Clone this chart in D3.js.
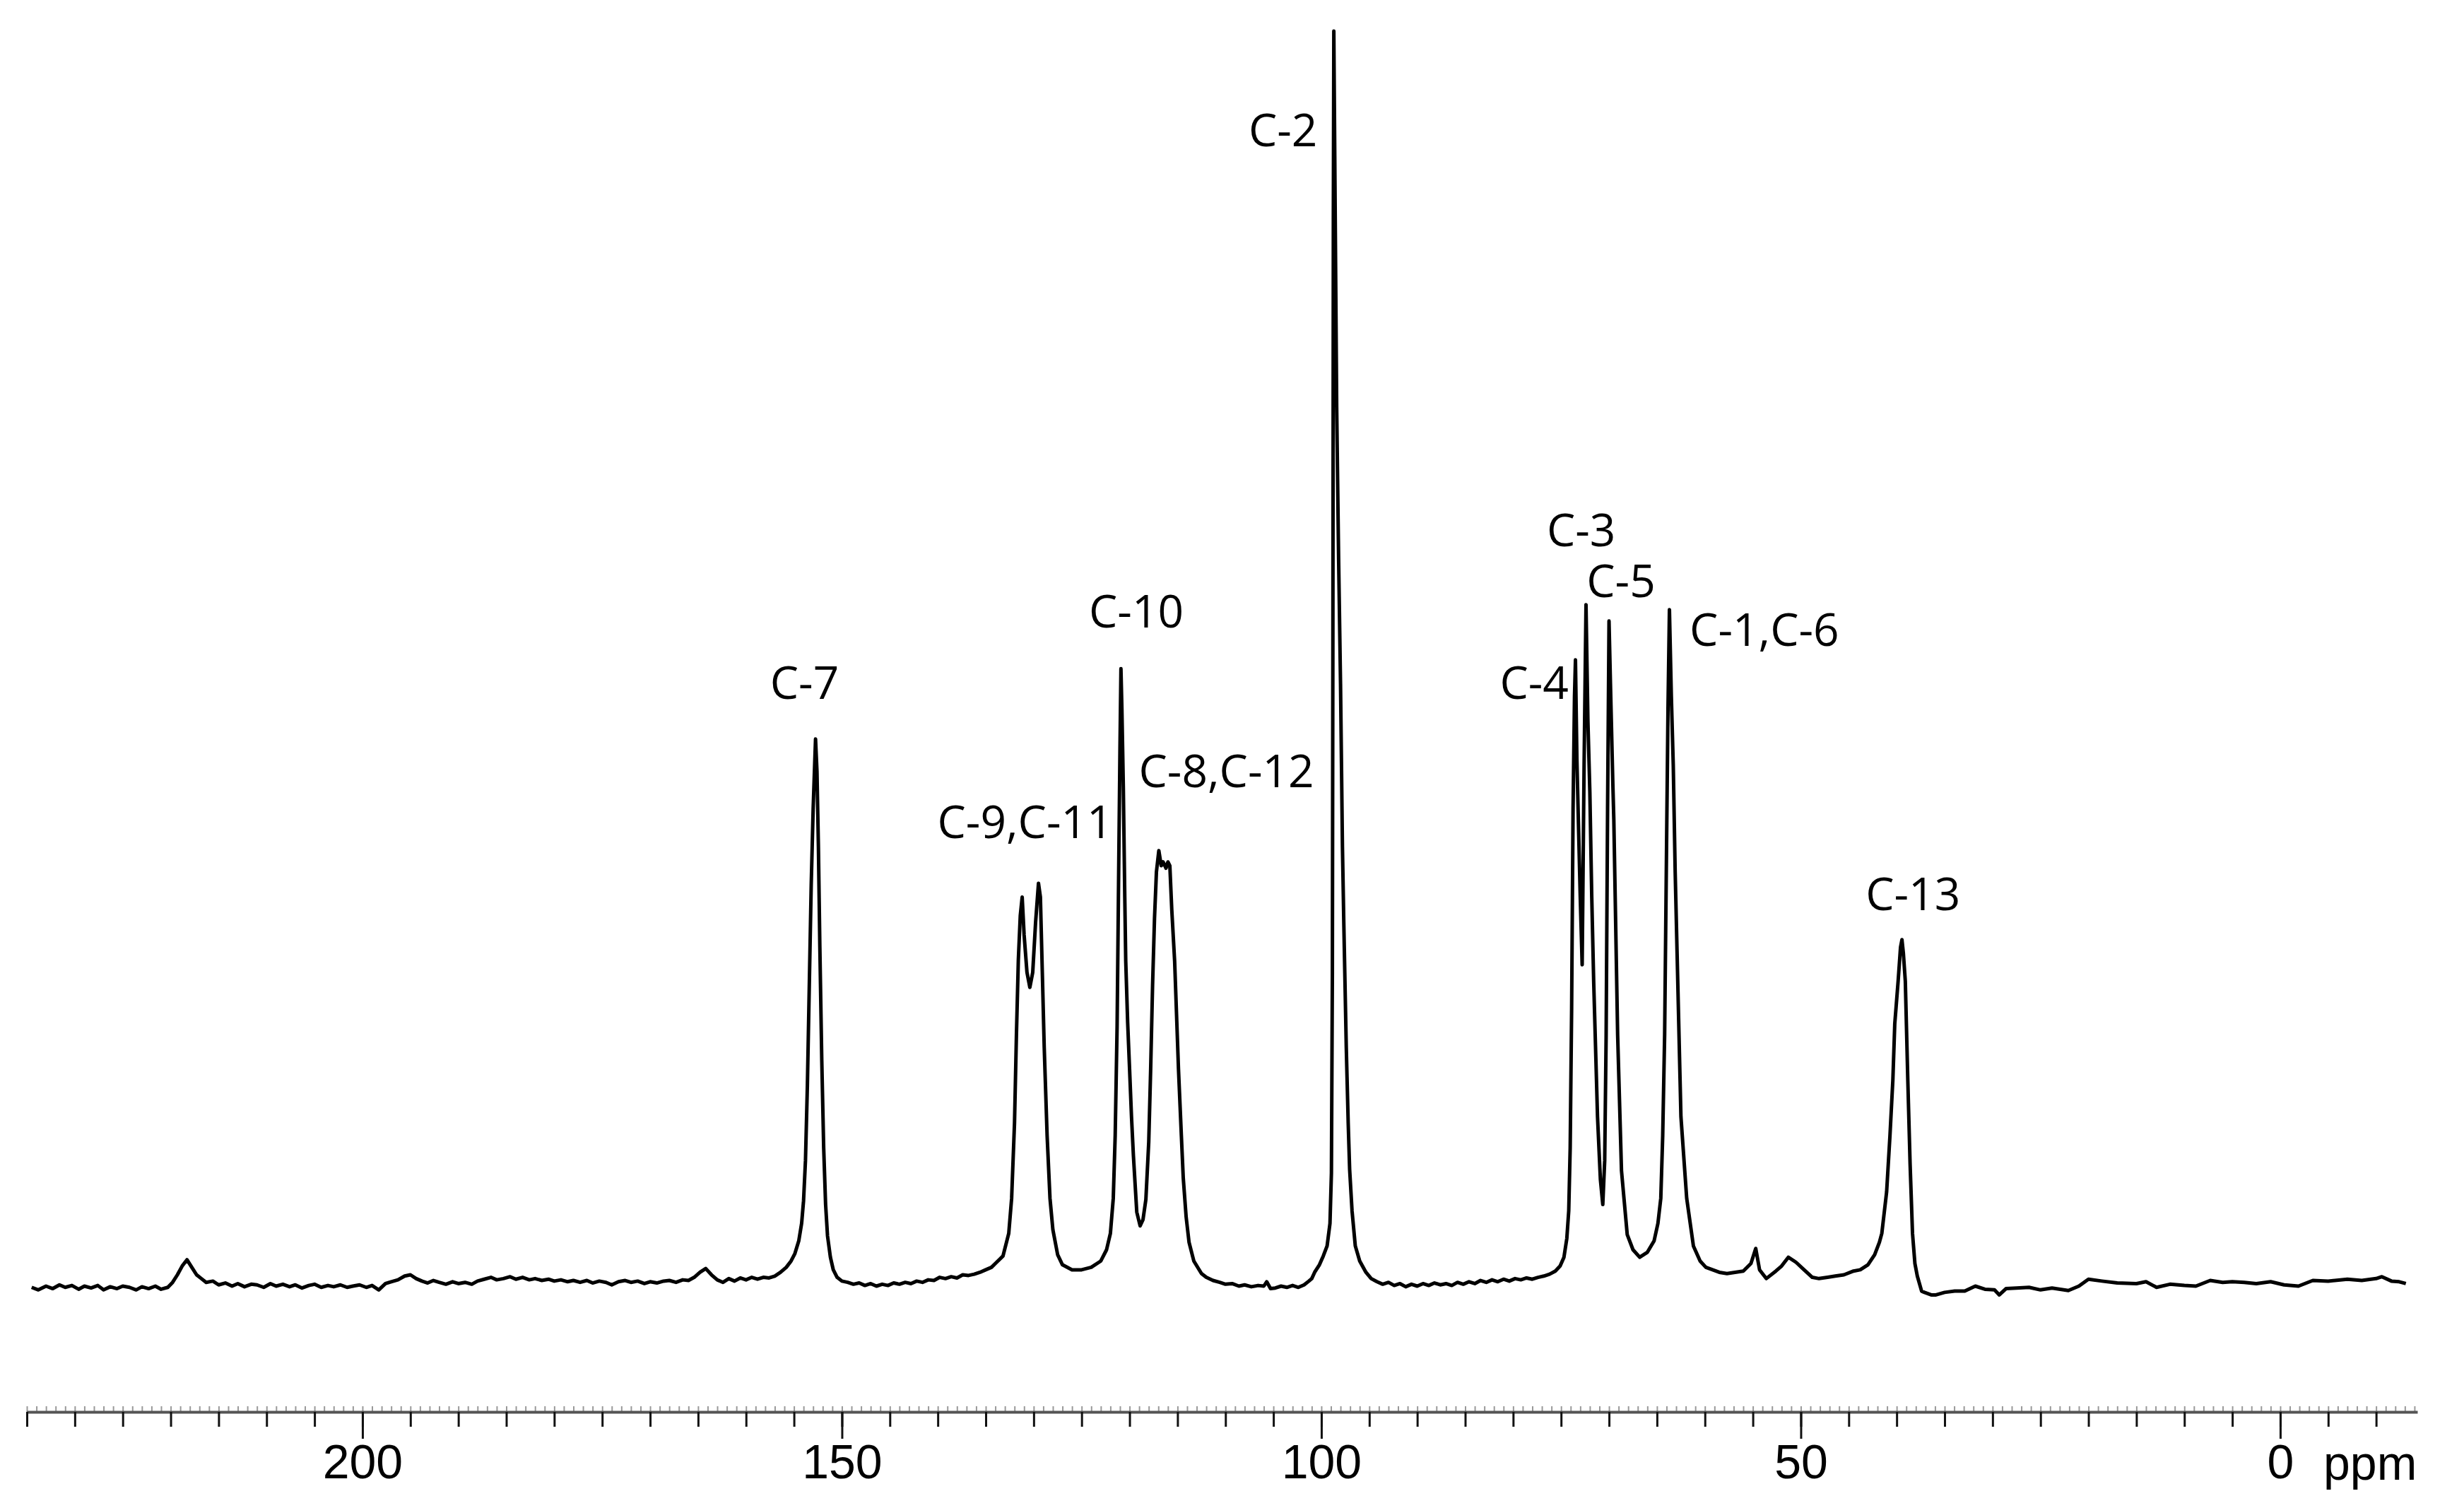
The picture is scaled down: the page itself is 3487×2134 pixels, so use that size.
<!DOCTYPE html>
<html>
<head>
<meta charset="utf-8">
<script src="https://cdn.jsdelivr.net/npm/d3@7"></script>
<style>
  html, body { margin: 0; padding: 0; background: #fff; }
  svg { display: block; }
</style>
</head>
<body>
<svg id="chart" width="3487" height="2134"></svg>
<script>
// 13C CP/MAS spectrum, [ppm, intensity] (C-2 top = 100)
const spectrum = [
  [234.5,-0.1],[233.8,-0.3],[233.0,0.0],[232.3,-0.2],[231.6,0.1],[231.0,-0.1],[230.3,0.05],[229.6,-0.25],
  [229.0,0.0],[228.3,-0.15],[227.6,0.05],[227.0,-0.3],[226.3,-0.05],[225.6,-0.2],[225.0,0.0],[224.3,-0.1],
  [223.6,-0.3],[223.0,-0.05],[222.3,-0.2],[221.6,0.0],[221.0,-0.25],[220.3,-0.1],[219.8,0.3],[219.3,0.9],
  [218.8,1.6],[218.3,2.1],[217.8,1.5],[217.3,0.9],[216.8,0.6],[216.3,0.3],[215.6,0.4],[215.0,0.1],
  [214.3,0.25],[213.6,0.0],[213.0,0.2],[212.3,-0.05],[211.6,0.15],[211.0,0.1],[210.3,-0.1],[209.6,0.2],
  [209.0,0.0],[208.3,0.15],[207.6,-0.05],[207.0,0.1],[206.3,-0.15],[205.6,0.05],[205.0,0.15],[204.3,-0.1],
  [203.6,0.05],[203.0,-0.05],[202.3,0.1],[201.6,-0.1],[201.0,0.0],[200.3,0.1],[199.6,-0.1],[199.0,0.05],
  [198.3,-0.3],[197.6,0.2],[197.0,0.35],[196.3,0.5],[195.6,0.8],[195.0,0.9],[194.4,0.6],[193.8,0.4],
  [193.2,0.25],[192.6,0.45],[192.0,0.3],[191.3,0.15],[190.6,0.35],[190.0,0.2],[189.3,0.3],[188.6,0.15],
  [188.0,0.4],[187.3,0.55],[186.6,0.7],[186.0,0.5],[185.3,0.6],[184.6,0.75],[184.0,0.55],[183.3,0.7],
  [182.6,0.5],[182.0,0.6],[181.3,0.45],[180.6,0.55],[180.0,0.4],[179.3,0.5],[178.6,0.35],[178.0,0.45],
  [177.3,0.3],[176.6,0.45],[176.0,0.25],[175.3,0.4],[174.6,0.3],[174.0,0.1],[173.3,0.35],[172.6,0.45],
  [172.0,0.3],[171.3,0.4],[170.6,0.2],[170.0,0.35],[169.3,0.25],[168.6,0.4],[168.0,0.45],[167.3,0.3],
  [166.6,0.5],[166.0,0.45],[165.4,0.7],[164.8,1.1],[164.2,1.4],[163.6,0.9],[163.0,0.5],[162.4,0.3],
  [161.8,0.6],[161.2,0.4],[160.6,0.65],[160.0,0.5],[159.4,0.7],[158.8,0.55],[158.2,0.7],[157.6,0.65],
  [157.0,0.8],[156.4,1.1],[155.8,1.5],[155.3,2.0],[154.9,2.6],[154.5,3.6],[154.2,5.0],[154.0,6.8],
  [153.8,10],[153.6,16],[153.4,24],[153.2,32],[153.0,38],[152.75,43.6],[152.6,41],[152.45,35],
  [152.3,27],[152.1,18],[151.9,11],[151.7,6.5],[151.5,4.0],[151.2,2.3],[150.9,1.3],[150.5,0.7],
  [150.0,0.4],[149.4,0.3],[148.8,0.15],[148.2,0.25],[147.6,0.05],[147.0,0.2],[146.4,0.0],[145.8,0.15],
  [145.2,0.05],[144.6,0.25],[144.0,0.15],[143.4,0.3],[142.8,0.2],[142.2,0.4],[141.6,0.3],[141.0,0.5],
  [140.4,0.45],[139.8,0.7],[139.2,0.6],[138.6,0.75],[138.0,0.65],[137.4,0.9],[136.8,0.85],[136.2,0.95],
  [135.6,1.1],[135.0,1.3],[134.4,1.5],[134.0,1.8],[133.2,2.4],[132.6,4.2],[132.3,7],[132.0,13],
  [131.8,20],[131.6,26],[131.4,29.5],[131.2,31.0],[131.0,28],[130.7,25],[130.4,23.8],[130.1,25],
  [129.8,29],[129.5,32.1],[129.3,31],[129.1,25],[128.9,19],[128.6,12],[128.3,7],[128.0,4.5],
  [127.5,2.5],[127.0,1.7],[126.0,1.3],[125.0,1.3],[124.0,1.5],[123.0,2.0],[122.4,2.9],[122.0,4.2],
  [121.7,7],[121.5,12],[121.3,20.7],[121.15,32],[121.0,43],[120.9,49.2],[120.8,46],[120.65,39.7],
  [120.5,31],[120.4,25.9],[120.2,21],[120.0,17.3],[119.8,13.5],[119.6,10.4],[119.25,5.9],[118.9,4.8],
  [118.6,5.3],[118.3,6.9],[118.0,11.5],[117.8,17.3],[117.6,24],[117.4,29.3],[117.2,33],[116.95,34.7],
  [116.7,33.5],[116.5,33.8],[116.2,33.3],[116.0,33.8],[115.8,33.5],[115.6,30],[115.3,25.9],[114.9,17.3],
  [114.6,12],[114.4,8.6],[114.1,5.5],[113.8,3.5],[113.3,2.0],[112.5,1.0],[112.0,0.7],[111.3,0.45],
  [110.6,0.3],[110.0,0.15],[109.3,0.2],[108.6,0.0],[108.0,0.1],[107.3,-0.05],[106.6,0.05],[106.0,0.0],
  [105.7,0.35],[105.3,-0.2],[104.8,-0.15],[104.2,0.0],[103.6,-0.1],[103.0,0.05],[102.4,-0.1],[101.8,0.1],
  [101.3,0.4],[101.0,0.6],[100.7,1.1],[100.2,1.7],[99.8,2.4],[99.4,3.2],[99.1,5],[98.95,9],
  [98.85,25],[98.8,50],[98.75,85],[98.7,100],[98.6,90],[98.4,70],[98.2,58],[98.0,48],
  [97.8,35],[97.66,29],[97.4,19],[97.2,13],[97.05,9.3],[96.8,6],[96.46,3.2],[96.0,2.0],
  [95.35,1.1],[94.8,0.6],[94.2,0.35],[93.6,0.15],[93.0,0.3],[92.4,0.05],[91.8,0.2],[91.2,-0.05],
  [90.6,0.15],[90.0,0.0],[89.4,0.2],[88.8,0.05],[88.2,0.25],[87.6,0.1],[87.0,0.2],[86.4,0.05],
  [85.8,0.3],[85.2,0.15],[84.6,0.35],[84.0,0.2],[83.4,0.45],[82.8,0.3],[82.2,0.5],[81.6,0.35],
  [81.0,0.55],[80.4,0.4],[79.8,0.6],[79.2,0.5],[78.6,0.65],[78.0,0.55],[77.4,0.7],[76.8,0.8],
  [76.2,0.95],[75.6,1.2],[75.1,1.6],[74.7,2.3],[74.4,3.8],[74.2,6],[74.05,11],[73.9,22],
  [73.75,38],[73.6,47],[73.5,49.9],[73.35,42],[73.2,37.2],[73.0,31],[72.8,25.6],[72.6,41.5],
  [72.4,54.3],[72.2,45],[72.0,39.4],[71.8,31],[71.6,24.3],[71.2,13.5],[70.9,8.5],[70.65,6.5],
  [70.45,10],[70.3,20],[70.15,38],[70.0,53.0],[69.85,48],[69.6,40],[69.5,37.2],[69.1,20],
  [68.7,9.2],[68.1,4.1],[67.5,2.9],[66.8,2.3],[66.0,2.7],[65.3,3.6],[64.9,5],[64.6,7.0],
  [64.4,12],[64.2,20],[64.0,35],[63.85,46],[63.7,53.9],[63.5,47],[63.3,41.5],[63.1,33],
  [62.9,26.5],[62.5,13.5],[61.9,7.0],[61.2,3.2],[60.5,2.0],[59.9,1.5],[58.5,1.1],[57.7,1.0],
  [56.0,1.2],[55.2,1.8],[54.7,3.0],[54.3,1.3],[53.6,0.6],[52.6,1.2],[52.0,1.6],[51.3,2.3],
  [50.5,1.9],[49.8,1.4],[48.8,0.7],[48.1,0.6],[47.2,0.7],[46.4,0.8],[45.5,0.9],[44.5,1.2],
  [43.8,1.3],[43.0,1.7],[42.3,2.5],[41.8,3.5],[41.55,4.2],[41.05,7.5],[40.7,12],[40.4,16.4],
  [40.2,20.9],[39.85,24.3],[39.6,27.0],[39.45,27.6],[39.3,26.5],[39.1,24.3],[38.84,16.4],[38.6,9.7],
  [38.35,4.2],[38.1,1.8],[37.85,0.8],[37.4,-0.4],[37.1,-0.5],[36.4,-0.7],[35.9,-0.7],[35.0,-0.5],
  [33.95,-0.4],[32.9,-0.4],[31.8,0.0],[30.8,-0.25],[29.8,-0.3],[29.3,-0.7],[28.6,-0.2],[27.5,-0.15],
  [26.2,-0.1],[25.0,-0.3],[23.8,-0.15],[22.1,-0.35],[21.0,0.0],[20.0,0.55],[18.6,0.4],[17.0,0.25],
  [15.0,0.2],[14.0,0.35],[12.9,-0.1],[11.5,0.15],[10.0,0.05],[8.8,0.0],[7.3,0.45],[6.0,0.3],
  [5.0,0.35],[3.75,0.3],[2.5,0.2],[1.0,0.35],[-0.4,0.1],[-1.9,0.0],[-3.4,0.45],[-5.0,0.4],
  [-7.0,0.55],[-8.5,0.45],[-10.0,0.6],[-10.6,0.75],[-11.6,0.4],[-12.4,0.35],[-13.1,0.2]
];

// peak assignments, anchored at [ppm, intensity] of the label's text baseline
const peakNames = ["C-7", "C-9,C-11", "C-10", "C-8,C-12", "C-2", "C-3", "C-5", "C-4", "C-1,C-6", "C-13"];
const peakLabelPpm = [153.9, 130.9, 119.3, 109.9, 104.0, 72.9, 68.75, 77.8, 53.8, 38.3];
const peakLabelInt = [46.8, 35.7, 52.5, 39.75, 90.8, 58.95, 54.9, 46.8, 51.0, 29.95];

const majorTicks = [200, 150, 100, 50, 0];
const minorTicks = d3.range(235, -11, -5);
const fineTicks = d3.range(235, -15, -1);
const unitLabel = "ppm";

const svg = d3.select("#chart");

const x = d3.scaleLinear()
  .domain([235, -14.3])
  .range([38, 3421]);

const y = d3.scaleLinear()
  .domain([0, 100])
  .range([1820, 44]);

const axisY = 1998;

// spectrum trace
const line = d3.line()
  .x(d => x(d[0]))
  .y(d => y(d[1]));

svg.append("path")
  .datum(spectrum)
  .attr("fill", "none")
  .attr("stroke", "#000")
  .attr("stroke-width", 5)
  .attr("stroke-linejoin", "round")
  .attr("d", line);

// peak labels
svg.append("g")
  .selectAll("text")
  .data(peakNames)
  .join("text")
  .attr("x", (d, i) => x(peakLabelPpm[i]))
  .attr("y", (d, i) => y(peakLabelInt[i]))
  .attr("text-anchor", "middle")
  .style("font-family", "'Open Sans', 'Noto Sans', sans-serif")
  .style("font-size", "64px")
  .attr("fill", "#000")
  .text(d => d);

// ppm scale bar
const gAxis = svg.append("g")
  .attr("transform", `translate(0,${axisY})`);

gAxis.append("g")
  .call(d3.axisTop(x).tickValues(fineTicks).tickSize(8).tickSizeOuter(0).tickFormat(""))
  .call(g => g.select(".domain").remove())
  .call(g => g.selectAll(".tick line").attr("stroke", "#999").attr("stroke-width", 2));

gAxis.append("g")
  .call(d3.axisBottom(x).tickValues(minorTicks).tickSize(21).tickSizeOuter(0).tickFormat(""))
  .call(g => g.select(".domain").attr("stroke", "#555").attr("stroke-width", 4))
  .call(g => g.selectAll(".tick line").attr("stroke", "#111").attr("stroke-width", 3));

gAxis.append("g")
  .call(d3.axisBottom(x).tickValues(majorTicks).tickSize(38).tickPadding(8).tickFormat(d3.format("d")))
  .call(g => g.select(".domain").remove())
  .call(g => g.selectAll(".tick line").attr("stroke", "#111").attr("stroke-width", 3))
  .call(g => g.selectAll(".tick text")
    .attr("fill", "#000")
    .style("font-family", "'Liberation Sans', Arial, sans-serif")
    .style("font-size", "68px"));

svg.append("text")
  .attr("x", x(-4.5))
  .attr("y", axisY + 96)
  .style("font-family", "'Liberation Sans', Arial, sans-serif")
  .style("font-size", "68px")
  .attr("fill", "#000")
  .text(unitLabel);
</script>
</body>
</html>
